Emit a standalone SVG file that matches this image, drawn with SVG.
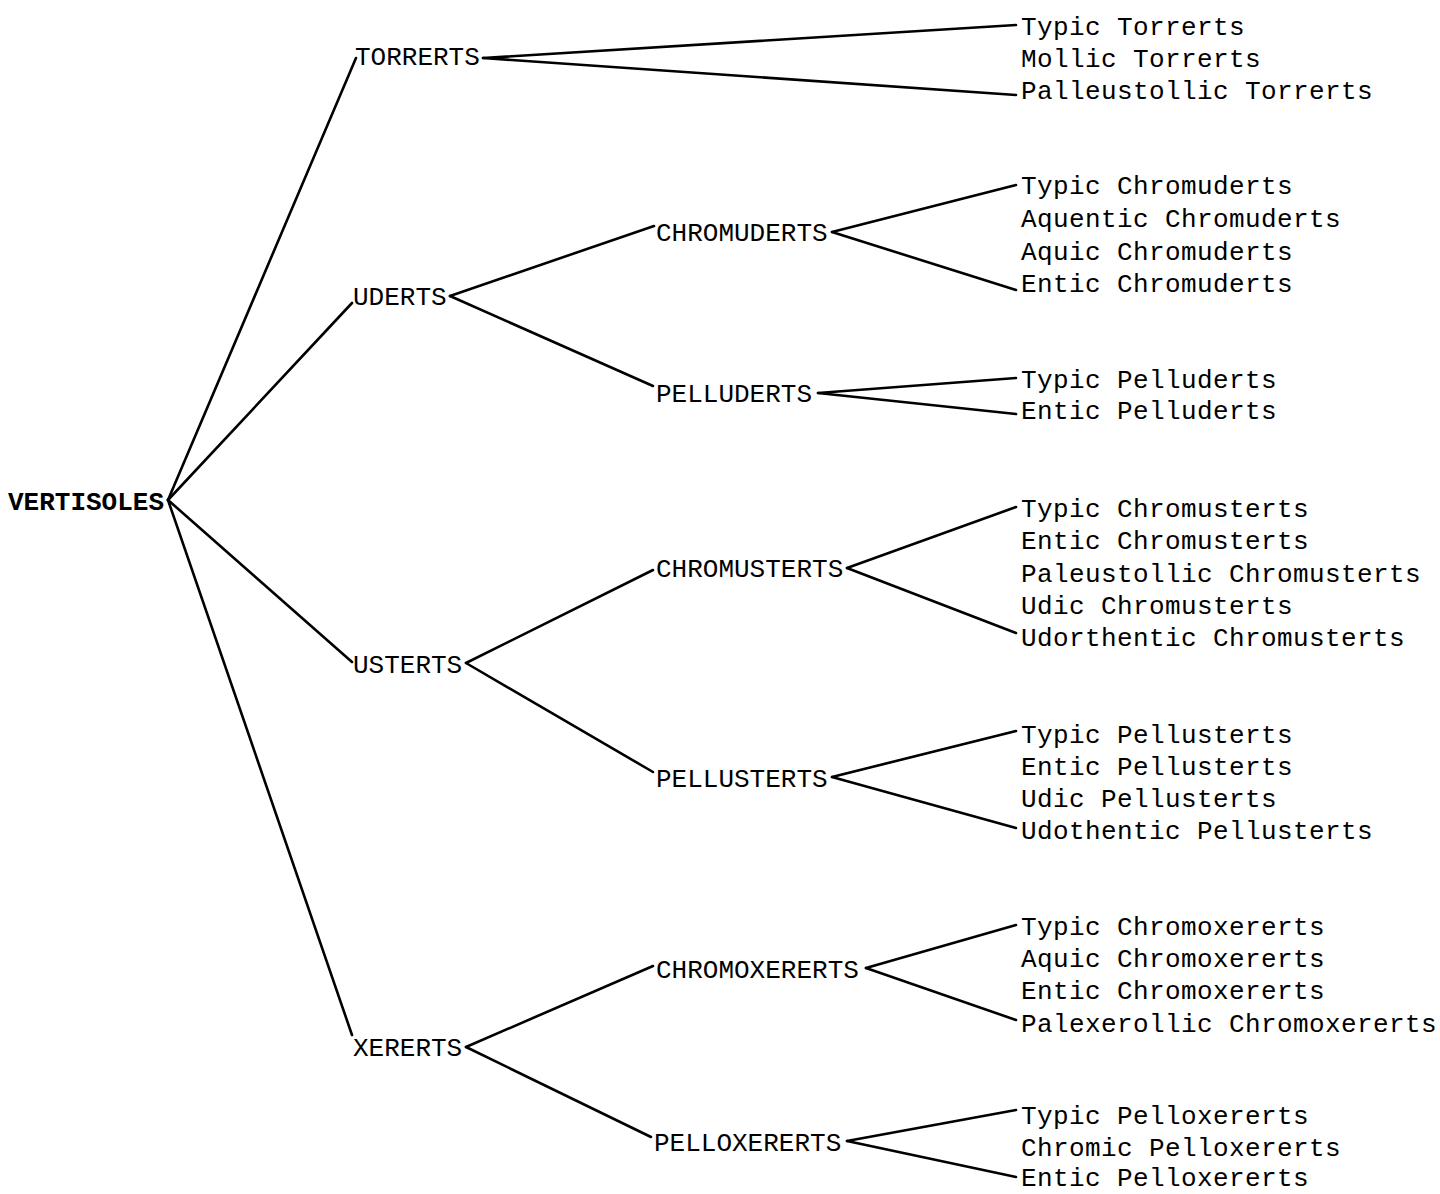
<svg xmlns="http://www.w3.org/2000/svg" width="1440" height="1194" viewBox="0 0 1440 1194">
  <style>
    text { font-family: "Liberation Mono", "DejaVu Sans Mono", monospace; font-size: 26px; fill: #000; }
    .root { font-weight: bold; }
    .leaf { letter-spacing: 0.4px; }
    .edge { stroke: #000; stroke-width: 2.6; fill: none; stroke-linecap: round; }
  </style>
  <rect width="1440" height="1194" fill="#fff"/>

  <!-- branches of the classification tree -->
  <g id="connectors">
    <!-- order to suborders -->
    <line class="edge" x1="168" y1="500" x2="356" y2="58"/>
    <line class="edge" x1="168" y1="500" x2="352" y2="303"/>
    <line class="edge" x1="168" y1="500" x2="352" y2="662"/>
    <line class="edge" x1="168" y1="500" x2="352" y2="1035"/>
    <!-- Torrerts -->
    <line class="edge" x1="483" y1="58" x2="1016" y2="25"/>
    <line class="edge" x1="483" y1="58" x2="1016" y2="95"/>
    <!-- Uderts -->
    <line class="edge" x1="450" y1="296" x2="654" y2="226"/>
    <line class="edge" x1="450" y1="296" x2="653" y2="386"/>
    <line class="edge" x1="832" y1="232" x2="1016" y2="185"/>
    <line class="edge" x1="832" y1="232" x2="1016" y2="290"/>
    <line class="edge" x1="818" y1="393" x2="1016" y2="378"/>
    <line class="edge" x1="818" y1="393" x2="1016" y2="414"/>
    <!-- Usterts -->
    <line class="edge" x1="466" y1="663" x2="653" y2="570"/>
    <line class="edge" x1="466" y1="663" x2="653" y2="772"/>
    <line class="edge" x1="847" y1="568" x2="1016" y2="507"/>
    <line class="edge" x1="847" y1="568" x2="1016" y2="633"/>
    <line class="edge" x1="832" y1="777" x2="1016" y2="731"/>
    <line class="edge" x1="832" y1="777" x2="1016" y2="828"/>
    <!-- Xererts -->
    <line class="edge" x1="466" y1="1047" x2="653" y2="966"/>
    <line class="edge" x1="466" y1="1047" x2="651" y2="1137"/>
    <line class="edge" x1="866" y1="968" x2="1016" y2="925"/>
    <line class="edge" x1="866" y1="968" x2="1016" y2="1020"/>
    <line class="edge" x1="847" y1="1141" x2="1016" y2="1110"/>
    <line class="edge" x1="847" y1="1141" x2="1016" y2="1177"/>
  </g>

  <g id="vertisoles"><text class="root" x="8" y="510">VERTISOLES</text></g>

  <g id="torrerts"><text x="355" y="65">TORRERTS</text></g>
  <g id="uderts"><text x="353" y="305">UDERTS</text></g>
  <g id="usterts"><text x="353" y="673">USTERTS</text></g>
  <g id="xererts"><text x="353" y="1056">XERERTS</text></g>

  <g id="chromuderts"><text x="656" y="241">CHROMUDERTS</text></g>
  <g id="pelluderts"><text x="656" y="402">PELLUDERTS</text></g>
  <g id="chromusterts"><text x="656" y="577">CHROMUSTERTS</text></g>
  <g id="pellusterts"><text x="656" y="787">PELLUSTERTS</text></g>
  <g id="chromoxererts"><text x="656" y="978">CHROMOXERERTS</text></g>
  <g id="pelloxererts"><text x="654" y="1151">PELLOXERERTS</text></g>

  <g id="torrerts-subgroups">
    <text class="leaf" x="1021" y="35">Typic Torrerts</text>
    <text class="leaf" x="1021" y="67">Mollic Torrerts</text>
    <text class="leaf" x="1021" y="99">Palleustollic Torrerts</text>
  </g>
  <g id="chromuderts-subgroups">
    <text class="leaf" x="1021" y="194">Typic Chromuderts</text>
    <text class="leaf" x="1021" y="227">Aquentic Chromuderts</text>
    <text class="leaf" x="1021" y="260">Aquic Chromuderts</text>
    <text class="leaf" x="1021" y="292">Entic Chromuderts</text>
  </g>
  <g id="pelluderts-subgroups">
    <text class="leaf" x="1021" y="388">Typic Pelluderts</text>
    <text class="leaf" x="1021" y="419">Entic Pelluderts</text>
  </g>
  <g id="chromusterts-subgroups">
    <text class="leaf" x="1021" y="517">Typic Chromusterts</text>
    <text class="leaf" x="1021" y="549">Entic Chromusterts</text>
    <text class="leaf" x="1021" y="582">Paleustollic Chromusterts</text>
    <text class="leaf" x="1021" y="614">Udic Chromusterts</text>
    <text class="leaf" x="1021" y="646">Udorthentic Chromusterts</text>
  </g>
  <g id="pellusterts-subgroups">
    <text class="leaf" x="1021" y="743">Typic Pellusterts</text>
    <text class="leaf" x="1021" y="775">Entic Pellusterts</text>
    <text class="leaf" x="1021" y="807">Udic Pellusterts</text>
    <text class="leaf" x="1021" y="839">Udothentic Pellusterts</text>
  </g>
  <g id="chromoxererts-subgroups">
    <text class="leaf" x="1021" y="935">Typic Chromoxererts</text>
    <text class="leaf" x="1021" y="967">Aquic Chromoxererts</text>
    <text class="leaf" x="1021" y="999">Entic Chromoxererts</text>
    <text class="leaf" x="1021" y="1032">Palexerollic Chromoxererts</text>
  </g>
  <g id="pelloxererts-subgroups">
    <text class="leaf" x="1021" y="1124">Typic Pelloxererts</text>
    <text class="leaf" x="1021" y="1156">Chromic Pelloxererts</text>
    <text class="leaf" x="1021" y="1186">Entic Pelloxererts</text>
  </g>
</svg>
